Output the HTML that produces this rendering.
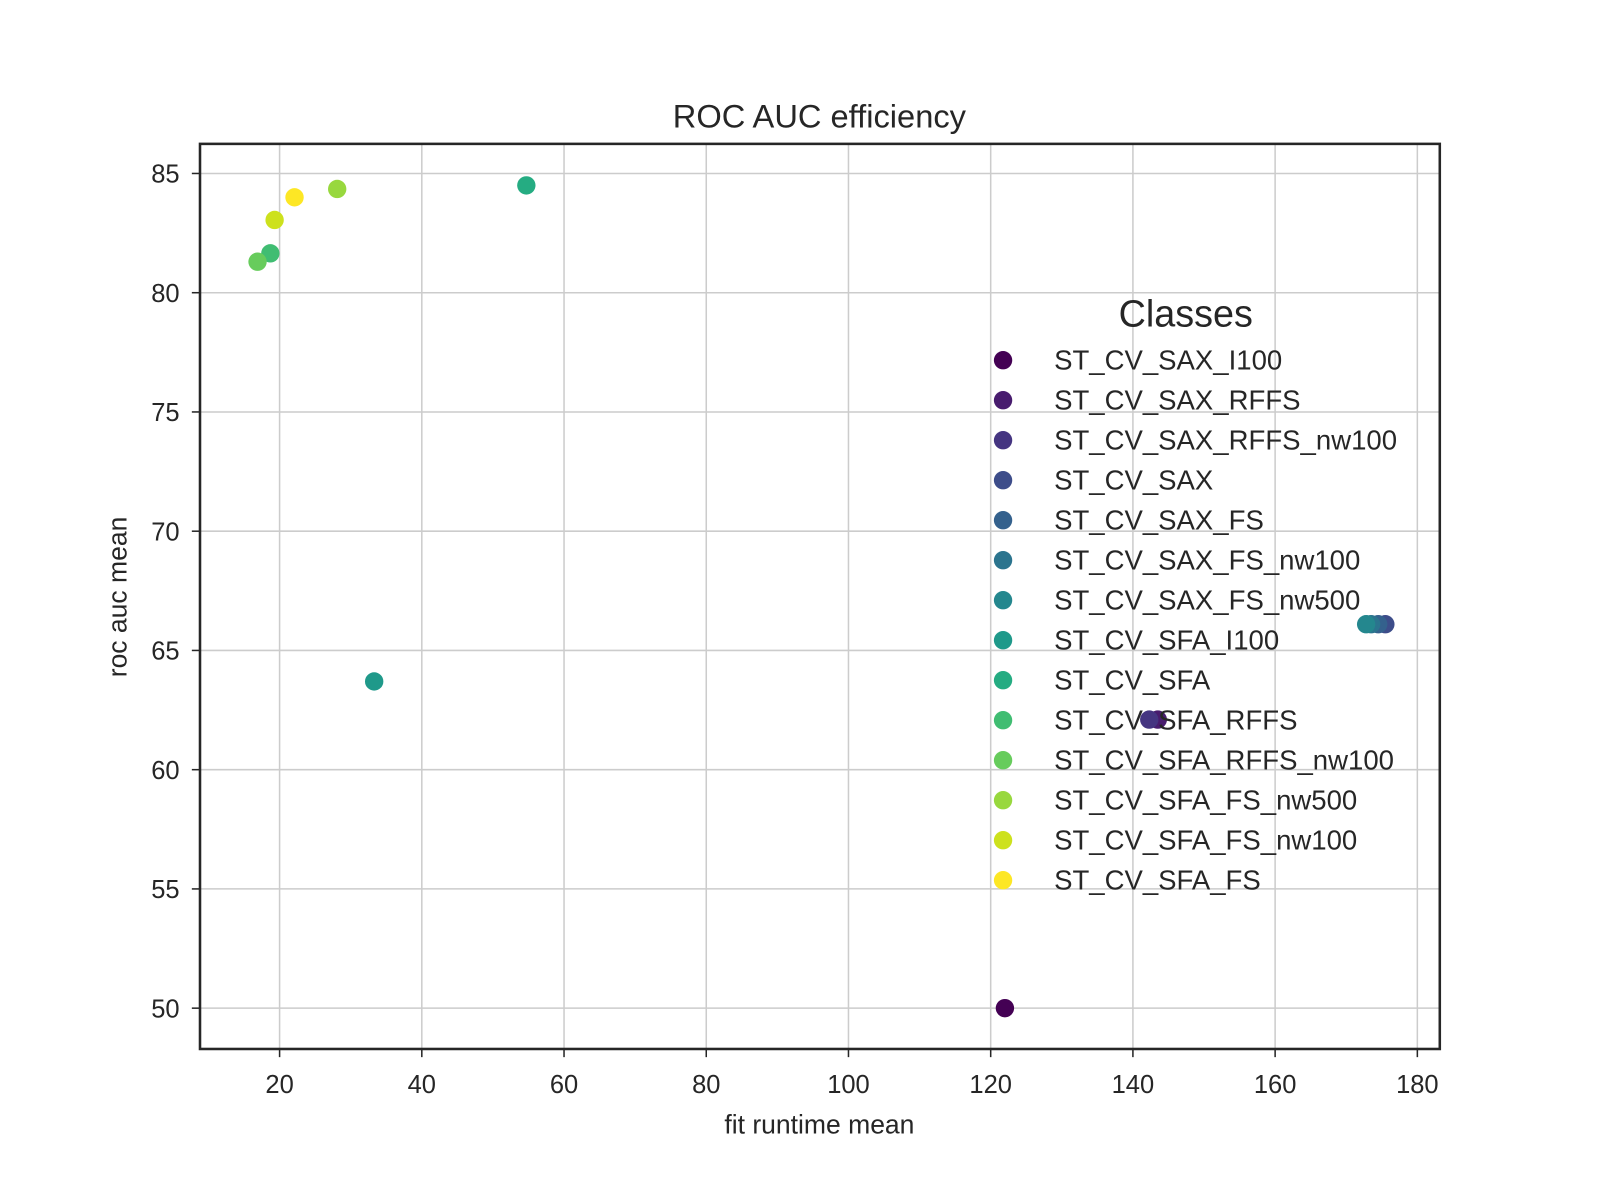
<!DOCTYPE html>
<html><head><meta charset="utf-8"><style>
body{margin:0;background:#fff}
svg{display:block;font-family:"Liberation Sans",Arial,sans-serif}
</style></head><body>
<svg id="chart" width="1600" height="1200" viewBox="0 0 1568 1176" preserveAspectRatio="none" xmlns="http://www.w3.org/2000/svg">
<rect width="1568" height="1176" fill="#fff"/>
<text x="803" y="125" font-size="32" text-anchor="middle" fill="#262626">ROC AUC efficiency</text>
<g id="grid"></g>
<g id="ticks"></g>
<g id="points"></g>
<rect x="196" y="141" width="1215" height="887" fill="none" stroke="#262626" stroke-width="2.5"/>
<text x="803" y="1111" font-size="26" text-anchor="middle" fill="#262626">fit runtime mean</text>
<text transform="translate(124,585) rotate(-90)" font-size="26" text-anchor="middle" fill="#262626">roc auc mean</text>
<g id="legend">
<text x="1162" y="320" font-size="37" text-anchor="middle" fill="#262626">Classes</text>
</g>
</svg>
<script>
const classes=["ST_CV_SAX_I100","ST_CV_SAX_RFFS","ST_CV_SAX_RFFS_nw100","ST_CV_SAX","ST_CV_SAX_FS","ST_CV_SAX_FS_nw100","ST_CV_SAX_FS_nw500","ST_CV_SFA_I100","ST_CV_SFA","ST_CV_SFA_RFFS","ST_CV_SFA_RFFS_nw100","ST_CV_SFA_FS_nw500","ST_CV_SFA_FS_nw100","ST_CV_SFA_FS"];
const runtime=[122,143.5,142.3,175.5,174.5,173.5,172.8,33.3,54.7,18.7,16.9,28.1,19.3,22.1];
const rocAuc=[50,62.1,62.1,66.1,66.1,66.1,66.1,63.7,84.5,81.65,81.3,84.35,83.05,84.0];
const colors=["#440154","#481c6e","#453581","#3d4d8a","#34618d","#2b748e","#24878e","#1f998a","#25ac82","#40bd72","#67cc5c","#98d83e","#cde11d","#fde725"];
const xTicks=[20,40,60,80,100,120,140,160,180];
const yTicks=[50,55,60,65,70,75,80,85];
const NS="http://www.w3.org/2000/svg";
const xs=v=>274+(v-20)*(1389-274)/160;
const ys=v=>170+(85-v)*(988-170)/35;
function mk(tag,attrs,parent){const e=document.createElementNS(NS,tag);for(const k in attrs)e.setAttribute(k,attrs[k]);parent.appendChild(e);return e;}
const grid=document.getElementById('grid'),ticks=document.getElementById('ticks'),pts=document.getElementById('points'),leg=document.getElementById('legend');
xTicks.forEach(t=>{const x=xs(t);
 const l=mk('line',{x1:x,x2:x,y1:141,y2:1028,stroke:'#cccccc','stroke-width':1.5},grid);
 
 
 const tk=mk('line',{x1:x,x2:x,y1:1028,y2:1036,stroke:'#262626','stroke-width':1.5},ticks);
 
 
 const tx=mk('text',{x:x,y:1071,'font-size':25,'text-anchor':'middle',fill:'#262626'},ticks);tx.textContent=t;
 
 
});
yTicks.forEach(t=>{const y=ys(t);
 const l=mk('line',{x1:196,x2:1411,y1:y,y2:y,stroke:'#cccccc','stroke-width':1.5},grid);
 
 
 const tk=mk('line',{x1:188,x2:196,y1:y,y2:y,stroke:'#262626','stroke-width':1.5},ticks);
 
 
 const tx=mk('text',{x:176,y:y+9,'font-size':25,'text-anchor':'end',fill:'#262626'},ticks);tx.textContent=t;
 
 
});
classes.forEach((c,i)=>{
 const p=mk('circle',{cx:xs(runtime[i]),cy:ys(rocAuc[i]),r:9,fill:colors[i]},pts);
 
 
 const y=353+i*39.2;
 const m=mk('circle',{cx:983,cy:y,r:9,fill:colors[i]},leg);
 
 
 const t=mk('text',{x:1033,y:y+9,'font-size':27,fill:'#262626'},leg);t.textContent=c;
 
 
});
</script>
</body></html>
